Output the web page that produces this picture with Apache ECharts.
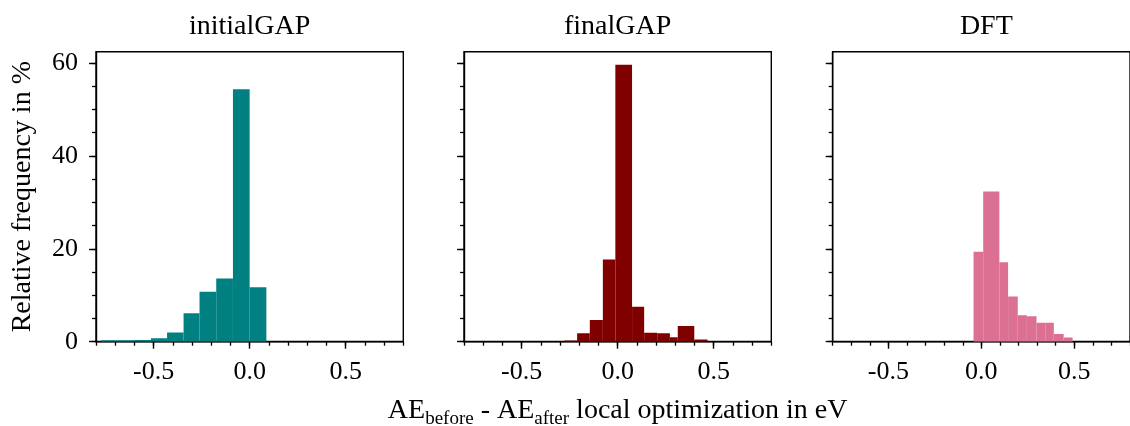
<!DOCTYPE html>
<html>
<head>
<meta charset="utf-8">
<script src="https://cdn.jsdelivr.net/npm/echarts@6/dist/echarts.min.js"></script>
<style>
  html, body { margin: 0; padding: 0; background: #fff; }
  #chart { width: 1130px; height: 426px; }
</style>
</head>
<body>
<div id="chart"></div>
<script>
// Histogram bin edges (eV) and relative frequencies (%) for each model
const panelTitles = ['initialGAP', 'finalGAP', 'DFT'];

const initialEdges = [-0.775, -0.688, -0.601, -0.514, -0.430, -0.344, -0.261, -0.174, -0.087, 0.0, 0.087];
const initialFreq  = [0.29, 0.29, 0.36, 0.72, 2.0, 6.1, 10.75, 13.6, 54.3, 11.7];

const finalEdges = [-0.277, -0.211, -0.145, -0.077, -0.012, 0.075, 0.138, 0.206, 0.272, 0.313, 0.399, 0.468];
const finalFreq  = [0.25, 1.8, 4.66, 17.7, 59.6, 7.5, 1.95, 1.8, 0.95, 3.4, 0.5];

const dftEdges = [-0.042, 0.010, 0.097, 0.144, 0.196, 0.245, 0.297, 0.344, 0.390, 0.443, 0.491];
const dftFreq  = [19.35, 32.3, 17.1, 9.75, 5.7, 5.5, 4.1, 4.1, 1.65, 0.9];

const panelColors = ['#008080', '#800000', '#db7093'];

// Axis tick positions
const xTickLabels = [-0.5, 0.0, 0.5];
const xMinorTicks = [-0.8, -0.7, -0.6, -0.5, -0.4, -0.3, -0.2, -0.1, 0.0, 0.1, 0.2, 0.3, 0.4, 0.5, 0.6, 0.7, 0.8];
const yTickLabels = [0, 20, 40, 60];
const yMinorTicks = [0, 5, 10, 15, 20, 25, 30, 35, 40, 45, 50, 55, 60];

const X_MIN = -0.8, X_MAX = 0.8, Y_MIN = 0, Y_MAX = 62.4;

const FONT = "'Liberation Serif', 'DejaVu Serif', serif";
const INK = '#000';

function binsToItems(edges, freq) {
  return freq.map((f, i) => [edges[i], edges[i + 1], f]);
}
const panelData = [
  binsToItems(initialEdges, initialFreq),
  binsToItems(finalEdges, finalFreq),
  binsToItems(dftEdges, dftFreq)
];

// Layout of the three plotting frames
const gridLefts = [96, 464, 832.7];
const gridWidth = 307.3;
const gridTop = 51.7;
const gridHeight = 290;

const grids = gridLefts.map(l => ({
  left: l, top: gridTop, width: gridWidth, height: gridHeight,
  show: true, borderColor: INK, borderWidth: 1.4, backgroundColor: 'transparent',
  containLabel: false
}));

const xAxes = [];
const yAxes = [];
const series = [];

gridLefts.forEach((_, i) => {
  // minor ticks + tick labels
  xAxes.push({
    type: 'value', gridIndex: i, min: X_MIN, max: X_MAX, position: 'bottom',
    axisLine: { show: true, onZero: false, lineStyle: { color: INK, width: 1.4 } },
    axisTick: { show: true, length: 4, customValues: xMinorTicks, lineStyle: { color: INK, width: 1.3 } },
    axisLabel: {
      show: true, customValues: xTickLabels, margin: 17,
      fontFamily: FONT, fontSize: 26, color: INK,
      formatter: v => Number(v).toFixed(1)
    },
    splitLine: { show: false }
  });
  // major ticks
  xAxes.push({
    type: 'value', gridIndex: i, min: X_MIN, max: X_MAX, position: 'bottom',
    axisLine: { show: false, onZero: false },
    axisTick: { show: true, length: 7, customValues: xTickLabels, lineStyle: { color: INK, width: 1.4 } },
    axisLabel: { show: false },
    splitLine: { show: false }
  });
  yAxes.push({
    type: 'value', gridIndex: i, min: Y_MIN, max: Y_MAX, position: 'left',
    axisLine: { show: true, onZero: false, lineStyle: { color: INK, width: 1.4 } },
    axisTick: { show: true, length: 4, customValues: yMinorTicks, lineStyle: { color: INK, width: 1.3 } },
    axisLabel: { show: false },
    splitLine: { show: false }
  });
  yAxes.push({
    type: 'value', gridIndex: i, min: Y_MIN, max: Y_MAX, position: 'left',
    axisLine: { show: false, onZero: false },
    axisTick: { show: true, length: 7, customValues: yTickLabels, lineStyle: { color: INK, width: 1.4 } },
    axisLabel: i === 0 ? {
      show: true, customValues: yTickLabels, margin: 18,
      fontFamily: FONT, fontSize: 26, color: INK
    } : { show: false },
    name: i === 0 ? 'Relative frequency in %' : '',
    nameLocation: 'middle', nameRotate: 90, nameGap: 59,
    nameTextStyle: { fontFamily: FONT, fontSize: 28, color: INK },
    splitLine: { show: false }
  });

  const color = panelColors[i];
  series.push({
    type: 'custom',
    xAxisIndex: 2 * i, yAxisIndex: 2 * i,
    data: panelData[i],
    encode: { x: [0, 1], y: 2 },
    clip: true,
    renderItem: function (params, api) {
      const topLeft = api.coord([api.value(0), api.value(2)]);
      const bottomRight = api.coord([api.value(1), 0]);
      return {
        type: 'rect',
        shape: {
          x: topLeft[0], y: topLeft[1],
          width: bottomRight[0] - topLeft[0],
          height: bottomRight[1] - topLeft[1]
        },
        style: { fill: color }
      };
    }
  });
});

const titles = panelTitles.map((t, i) => ({
  text: t,
  left: gridLefts[i] + gridWidth / 2,
  top: 13,
  textAlign: 'center',
  padding: 0,
  textStyle: { fontFamily: FONT, fontSize: 28, fontWeight: 'normal', color: INK }
}));

// shared x-axis caption with subscripts
titles.push({
  text: '{m|AE}{s|before}{m| - AE}{s|after}{m| local optimization in eV}',
  left: gridLefts[1] + gridWidth / 2,
  top: 401,
  textAlign: 'center',
  padding: 0,
  textStyle: {
    fontWeight: 'normal',
    rich: {
      m: { fontFamily: FONT, fontSize: 28, lineHeight: 28, fontWeight: 'normal', color: INK, padding: [0, 0, 4, 0], verticalAlign: 'bottom' },
      s: { fontFamily: FONT, fontSize: 19, lineHeight: 19, fontWeight: 'normal', color: INK, verticalAlign: 'bottom' }
    }
  }
});

const chart = echarts.init(document.getElementById('chart'), null, { renderer: 'canvas' });
chart.setOption({
  backgroundColor: '#fff',
  animation: false,
  title: titles,
  grid: grids,
  xAxis: xAxes,
  yAxis: yAxes,
  series: series
});
</script>
</body>
</html>
